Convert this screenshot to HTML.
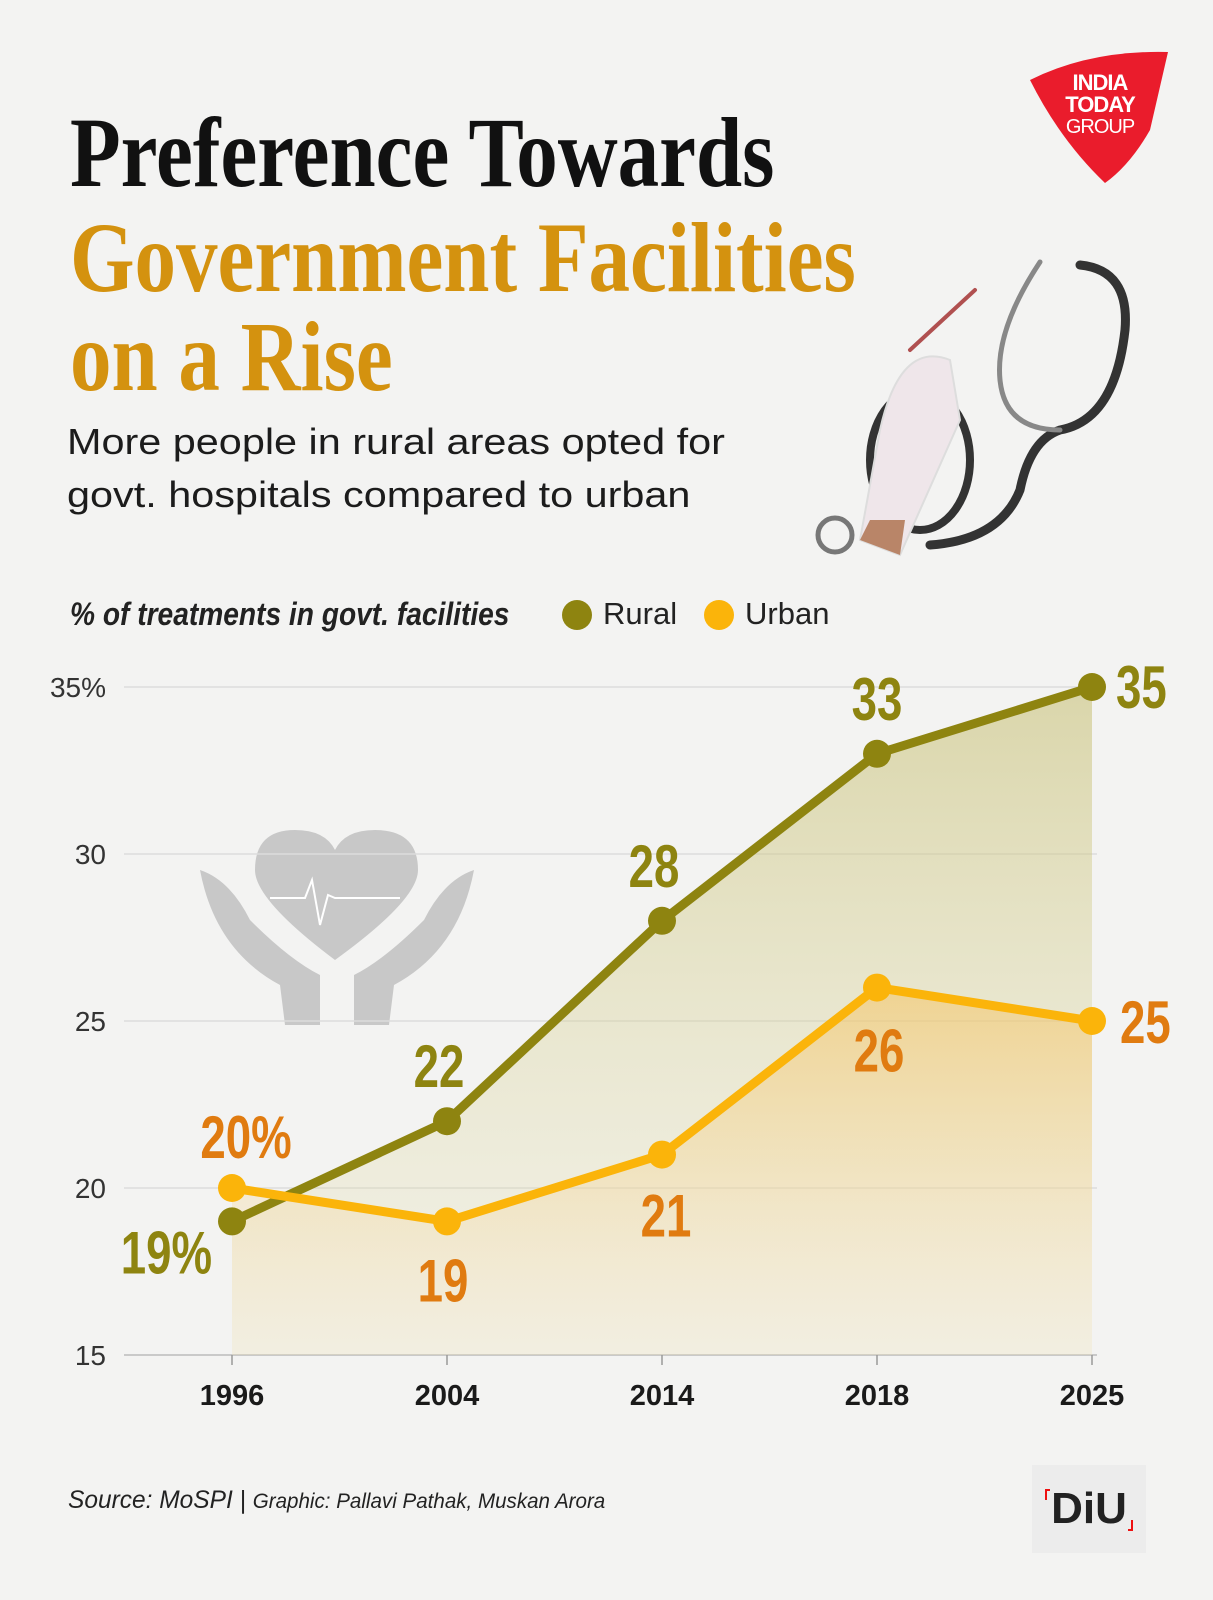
<!DOCTYPE html>
<html><head><meta charset="utf-8">
<style>
html,body{margin:0;padding:0;background:#f3f3f2;}
svg{display:block;}
.ser{font-family:"Liberation Serif",serif;font-weight:bold;}
.sans{font-family:"Liberation Sans",sans-serif;}
</style></head>
<body>
<svg id="chart" width="1213" height="1600" viewBox="0 0 1213 1600" xmlns="http://www.w3.org/2000/svg">
<defs>
<linearGradient id="gR" x1="0" y1="0" x2="0" y2="1"><stop offset="0" stop-color="#c9c27a" stop-opacity="0.6"/><stop offset="1" stop-color="#e8e2b0" stop-opacity="0.15"/></linearGradient>
<linearGradient id="gU" x1="0" y1="0" x2="0" y2="1"><stop offset="0" stop-color="#f5c462" stop-opacity="0.55"/><stop offset="1" stop-color="#f8e2b8" stop-opacity="0.15"/></linearGradient>
</defs>
<rect width="1213" height="1600" fill="#f3f3f2"/>
<g class="ser" font-size="100">
<text x="70" y="186" fill="#111" transform="translate(70 0) scale(0.83 1) translate(-70 0)">Preference Towards</text>
<text x="70" y="291" fill="#d4920f" transform="translate(70 0) scale(0.83 1) translate(-70 0)">Government Facilities</text>
<text x="70" y="390" fill="#d4920f" transform="translate(70 0) scale(0.83 1) translate(-70 0)">on a Rise</text>
</g>
<text class="sans" x="67" y="454" font-size="36" fill="#1c1c1c" transform="translate(67 0) scale(1.15 1) translate(-67 0)">More people in rural areas opted for</text>
<text class="sans" x="67" y="507" font-size="36" fill="#1c1c1c" transform="translate(67 0) scale(1.15 1) translate(-67 0)">govt. hospitals compared to urban</text>
<g>
<path d="M1030 80 Q1090 50 1168 52 L1150 130 Q1130 165 1105 183 Q1060 140 1030 80Z" fill="#ea1c2c"/>
<text class="sans" x="1100" y="90" font-size="22" font-weight="bold" fill="#fff" text-anchor="middle" letter-spacing="-1">INDIA</text>
<text class="sans" x="1100" y="112" font-size="22" font-weight="bold" fill="#fff" text-anchor="middle" letter-spacing="-1">TODAY</text>
<text class="sans" x="1100" y="133" font-size="20" fill="#fff" text-anchor="middle" letter-spacing="-1">GROUP</text>
</g>
<g fill="none" stroke-linecap="round">
<path d="M1080 265 Q1130 270 1125 330 Q1115 420 1060 430 Q1030 440 1020 490 Q1000 540 930 545" stroke="#333" stroke-width="9"/>
<path d="M1060 430 Q1005 430 1000 380 Q995 330 1040 262" stroke="#888" stroke-width="5"/>
<ellipse cx="920" cy="460" rx="50" ry="70" stroke="#333" stroke-width="8"/>
<circle cx="835" cy="535" r="17" stroke="#777" stroke-width="5"/>
<path d="M860 540 L880 430 Q900 340 950 360 L960 420 L900 555 Z" fill="#efe6ea" stroke="#ddd" stroke-width="2"/>
<path d="M860 540 L900 555 L905 520 L870 520Z" fill="#b98568"/>
<path d="M910 350 L975 290" stroke="#b05050" stroke-width="4"/>
</g>
<g>
<text class="sans" x="70" y="625" font-size="32" font-style="italic" font-weight="bold" fill="#222" transform="translate(70 0) scale(0.88 1) translate(-70 0)">% of treatments in govt. facilities</text>
<circle cx="577" cy="615" r="15" fill="#8e8410"/>
<text class="sans" x="603" y="624" font-size="31" fill="#222">Rural</text>
<circle cx="719" cy="615" r="15" fill="#fbb40a"/>
<text class="sans" x="745" y="624" font-size="31" fill="#222">Urban</text>
</g>
<g fill="#c8c8c8">
<path d="M335 960 Q255 900 255 870 Q255 830 295 830 Q325 830 335 850 Q345 830 375 830 Q418 830 418 870 Q418 900 335 960Z"/>
<path d="M200 870 Q230 880 250 920 Q290 960 320 975 L320 1025 L285 1025 L280 985 Q215 950 200 870Z"/>
<path d="M474 870 Q444 880 424 920 Q384 960 354 975 L354 1025 L389 1025 L394 985 Q459 950 474 870Z"/>
<path d="M270 898 L305 898 L312 880 L320 925 L328 895 L335 898 L400 898" stroke="#fff" stroke-width="2" fill="none"/>
</g>
<g id="plot"></g>
<text class="sans" x="68" y="1508" font-size="25" font-style="italic" fill="#222" transform="translate(68 0) scale(0.98 1) translate(-68 0)">Source: MoSPI | <tspan font-size="21">Graphic: Pallavi Pathak, Muskan Arora</tspan></text>
<g>
<rect x="1032" y="1465" width="114" height="88" fill="#ececec"/>
<text class="sans" x="1089" y="1523" font-size="44" font-weight="bold" fill="#222" text-anchor="middle">DiU</text>
<path d="M1050 1490 L1046 1490 L1046 1500 M1128 1530 L1132 1530 L1132 1520" stroke="#e11" stroke-width="2" fill="none"/>
</g>
</svg>
<script>
const categories=["1996","2004","2014","2018","2025"];
const rural=[19,22,28,33,35];
const urban=[20,19,21,26,25];
const yTicks=[15,20,25,30,35];
const ruralLabels=["19%","22","28","33","35"];
const urbanLabels=["20%","19","21","26","25"];
const NS="http://www.w3.org/2000/svg";
const g=document.getElementById('plot');
const X0=232,X1=1092,Y0=1355,Y1=687;
function x(i){return X0+i*(X1-X0)/(categories.length-1);}
function y(v){return Y0-(v-15)*(Y0-Y1)/20;}
function mk(t,a,p){const e=document.createElementNS(NS,t);for(const k in a)e.setAttribute(k,a[k]);(p||g).appendChild(e);return e;}
yTicks.forEach((t,i)=>{
 const l=mk('line',{x1:124,x2:1097,y1:y(t),y2:y(t),stroke:i==0?'#bbb':'#dcdcdc','stroke-width':1.5});
 
 
 const tx=mk('text',{x:106,y:y(t)+10,'text-anchor':'end','font-size':28,fill:'#333','font-family':'Liberation Sans, sans-serif'});
 tx.textContent=t+(i==yTicks.length-1?'%':'');
 
 
});
categories.forEach((c,i)=>{
 const l=mk('line',{x1:x(i),x2:x(i),y1:Y0,y2:Y0+10,stroke:'#999','stroke-width':1.5});
 
 
 const t=mk('text',{x:x(i),y:1405,'text-anchor':'middle','font-size':29,'font-weight':'bold',fill:'#1a1a1a','font-family':'Liberation Sans, sans-serif'});
 t.textContent=c;
 
 
});
function area(d,fill,name){
 let p='M'+x(0)+' '+Y0;d.forEach((v,i)=>p+=' L'+x(i)+' '+y(v));p+=' L'+x(d.length-1)+' '+Y0+'Z';
 const a=mk('path',{d:p,fill:fill});
 
 
}
area(rural,'url(#gR)','rural-area');
area(urban,'url(#gU)','urban-area');
function series(d,color,name,labels,lc,offs){
 const pl=mk('polyline',{points:d.map((v,i)=>x(i)+','+y(v)).join(' '),fill:'none',stroke:color,'stroke-width':9,'stroke-linejoin':'round'});
 
 
 d.forEach((v,i)=>{
  const c=mk('circle',{cx:x(i),cy:y(v),r:14,fill:color});
  
  
  const o=offs[i];
  const t=mk('text',{x:x(i)+o[0],y:y(v)+o[1],'text-anchor':o[2],'font-size':60,'font-weight':'bold',fill:lc,'font-family':'Liberation Sans Narrow, Liberation Sans, sans-serif',transform:'translate('+(x(i)+o[0])+' 0) scale(0.76 1) translate('+(-(x(i)+o[0]))+' 0)'});
  t.textContent=labels[i];
  
  
 });
}
series(rural,'#8e8410','rural',ruralLabels,'#8e8410',[[-20,52,'end'],[-8,-34,'middle'],[-8,-34,'middle'],[0,-34,'middle'],[24,21,'start']]);
series(urban,'#fbb40a','urban',urbanLabels,'#e07b10',[[14,-30,'middle'],[-4,80,'middle'],[4,82,'middle'],[2,84,'middle'],[28,22,'start']]);
</script>
</body></html>
